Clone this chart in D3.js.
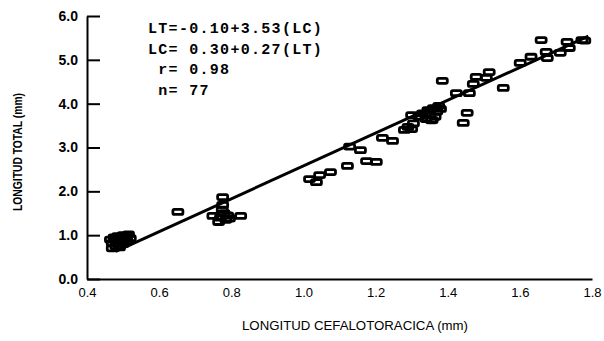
<!DOCTYPE html>
<html><head><meta charset="utf-8">
<script src="https://cdn.jsdelivr.net/npm/d3@7"></script>
<style>
html,body{margin:0;padding:0;background:#fff;}
svg{display:block;}
</style></head>
<body>
<script>
// Longitud cefalotoracica (mm) – x values
const lcValues = [
  // cluster ~0.5
  0.465,0.47,0.475,0.48,0.48,0.485,0.49,0.49,0.495,0.50,0.50,0.505,0.51,0.51,0.515,0.52,0.47,
  // cluster ~0.78
  0.776,0.776,0.749,0.826,0.77,0.78,0.785,0.765,0.79,0.775,0.795,
  0.652,
  1.017,1.036,1.045,1.075,1.122,1.128,1.158,1.175,1.202,1.219,1.247,1.28,1.29,1.30,1.305,
  1.32,1.33,1.34,1.345,1.35,1.36,1.365,1.37,1.375,1.38,1.355,
  1.30,1.357,
  1.385,1.424,1.46,1.454,1.443,1.479,1.471,1.515,1.507,1.554,1.601,1.631,1.659,1.673,1.676,1.712,1.731,1.737,1.772,1.78
];
// Longitud total – y values
const ltValues = [
  0.90,0.82,0.95,0.75,0.88,0.98,0.72,0.85,0.93,1.00,0.80,0.90,0.97,0.85,1.02,0.93,0.70,
  1.87,1.69,1.44,1.44,1.40,1.50,1.35,1.30,1.45,1.58,1.38,
  1.53,
  2.28,2.21,2.37,2.44,2.58,3.02,2.94,2.69,2.67,3.22,3.15,3.40,3.47,3.42,3.55,
  3.70,3.78,3.65,3.85,3.75,3.90,3.70,3.82,3.95,3.88,3.62,
  3.74,3.63,
  4.52,4.24,4.24,3.79,3.56,4.61,4.45,4.72,4.59,4.36,4.93,5.07,5.45,5.18,5.04,5.16,5.41,5.27,5.45,5.44
];
// regression line end points
const lineLC = [0.48, 1.79];
const lineLT = [0.63, 5.54];
const xTicks = [0.4,0.6,0.8,1.0,1.2,1.4,1.6,1.8];
const yTicks = [0,1,2,3,4,5,6];
const equationLines = ["LT=-0.10+3.53(LC)", "LC= 0.30+0.27(LT)", " r= 0.98", " n= 77"];
const xTitle = "LONGITUD CEFALOTORACICA (mm)";
const yTitle = "LONGITUD TOTAL (mm)";

const W = 604, H = 341;
const svg = d3.select("body").append("svg").attr("width", W).attr("height", H);
const x = d3.scaleLinear().domain([0.4, 1.8]).range([87, 592]);
const y = d3.scaleLinear().domain([0, 6]).range([279, 16]);

// axes
const yAxis = d3.axisLeft(y).tickValues(yTicks).tickFormat(d3.format(".1f"))
  .tickSizeInner(-13).tickSizeOuter(0).tickPadding(9);
const gy = svg.append("g").attr("transform", `translate(${x(0.4)},0)`).call(yAxis);
gy.select(".domain").attr("stroke", "#000").attr("stroke-width", 2);
gy.selectAll(".tick line").attr("stroke", "#000").attr("stroke-width", 2);
gy.selectAll(".tick text").attr("font-family", "Liberation Sans, Arial, sans-serif")
  .attr("font-size", 14).attr("font-weight", "bold").attr("fill", "#000");

const xAxis = d3.axisBottom(x).tickValues(xTicks).tickFormat(d3.format(".1f"))
  .tickSize(0).tickPadding(9);
const gx = svg.append("g").attr("transform", `translate(0,${y(0)})`).call(xAxis);
gx.select(".domain").attr("stroke", "#000").attr("stroke-width", 2);
gx.selectAll(".tick text").attr("font-family", "Liberation Sans, Arial, sans-serif")
  .attr("font-size", 13).attr("fill", "#000");

// regression line
svg.append("line")
  .attr("x1", x(lineLC[0])).attr("y1", y(lineLT[0]))
  .attr("x2", x(lineLC[1])).attr("y2", y(lineLT[1]))
  .attr("stroke", "#000").attr("stroke-width", 3);

// points
const pts = lcValues.map((v, i) => ({lc: v, lt: ltValues[i]}));
const rw = 10, rh = 5;
svg.append("g").selectAll("rect").data(pts).join("rect")
  .attr("x", d => x(d.lc) - rw / 2).attr("y", d => y(d.lt) - rh / 2)
  .attr("width", rw).attr("height", rh).attr("rx", 1.5)
  .attr("fill", "none").attr("stroke", "#000").attr("stroke-width", 2.8);

// equation text
svg.append("g").selectAll("text").data(equationLines).join("text")
  .attr("x", 148).attr("y", (d, i) => 33 + i * 20.5)
  .attr("font-family", "Liberation Mono, DejaVu Sans Mono, monospace")
  .attr("font-size", 15).attr("font-weight", "bold").attr("letter-spacing", 1.3)
  .attr("xml:space", "preserve").style("white-space", "pre")
  .text(d => d);

// axis titles
svg.append("text").attr("x", 355).attr("y", 330).attr("text-anchor", "middle")
  .attr("font-family", "Liberation Sans, Arial, sans-serif").attr("font-size", 12)
  .attr("textLength", 226).attr("lengthAdjust", "spacingAndGlyphs")
  .text(xTitle);
svg.append("text").attr("transform", "translate(22,152) rotate(-90)")
  .attr("text-anchor", "middle")
  .attr("font-family", "Liberation Sans, Arial, sans-serif")
  .attr("font-size", 13).attr("font-weight", "bold")
  .attr("textLength", 118).attr("lengthAdjust", "spacingAndGlyphs")
  .text(yTitle);
</script>
</body></html>
